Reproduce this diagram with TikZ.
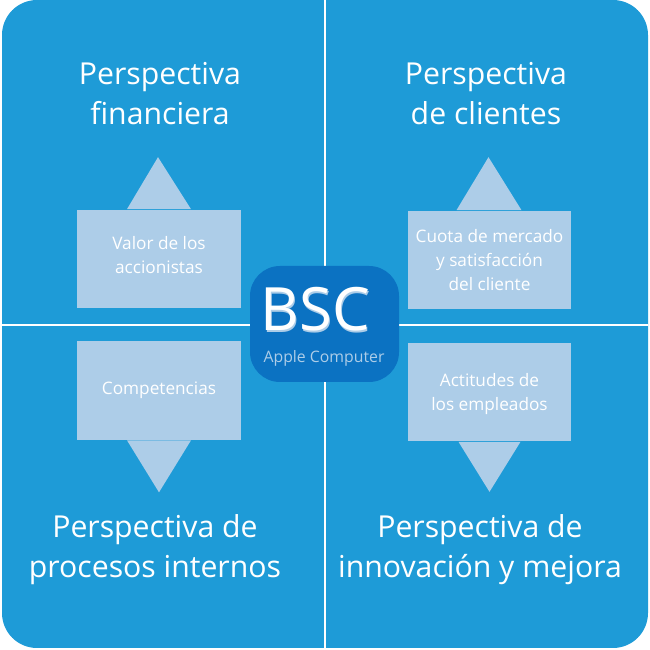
\documentclass[tikz,border=0pt]{standalone}
\usepackage{fontspec}
\setmainfont{Open Sans}
\usetikzlibrary{calc,positioning}
\definecolor{bscblue}{HTML}{1E9BD7}
\definecolor{bscdark}{HTML}{0B72C2}
\definecolor{bsclight}{HTML}{ADCDE8}
\tikzset{
	titletext/.style={text=white, align=center, font=\fontsize{17.2}{22.7}\selectfont},
	callbox/.style={fill=bsclight, text=white, align=center, inner sep=0pt,
		minimum width=3.28cm, minimum height=1.98cm, font=\fontsize{9.8}{13.6}\selectfont},
	divider/.style={white, line width=0.8pt}
}

\begin{document}
\begin{tikzpicture}[x=0.02cm, y=0.02cm]
		%%%%% START %%%%%
		
		\useasboundingbox (0, 0) rectangle (650, 650);
		\fill[bscblue, rounded corners=0.7cm] (2, 2) rectangle (648, 650);
		
		\coordinate (top) at (325, 650);
		\coordinate (bottom) at (325, 2);
		\coordinate (left) at (2, 325);
		\coordinate (right) at (648, 325);
		\draw[divider] (top) -- (bottom);
		\draw[divider] (left) -- (right);
		
		\node[titletext] (financiera) at (160, 556) {Perspectiva\\financiera};
		\node[titletext] (clientes) at (486, 556) {Perspectiva\\de clientes};
		\node[titletext] (procesos) at (155, 100) {Perspectiva de\\procesos internos};
		\node[titletext] (innovacion) at (480, 100) {Perspectiva de\\innovación y mejora};
		
		\node[callbox] (valor) at (159, 391) {Valor de los\\accionistas\\[-9.1pt]};
		\fill[bsclight] ($(valor.north)+(-32, 0)$) -- ($(valor.north)+(-1, 52)$) -- ($(valor.north)+(32, 0)$) -- cycle;
		
		\node[callbox] (cuota) at (489.5, 390) {Cuota de mercado\\y satisfacción\\del cliente};
		\fill[bsclight] ($(cuota.north)+(-33, 0)$) -- ($(cuota.north)+(-1, 53)$) -- ($(cuota.north)+(32, 0)$) -- cycle;
		
		\node[callbox] (competencias) at (159, 259.5) {Competencias};
		\fill[bsclight] ($(competencias.south)+(-32, 0)$) -- ($(competencias.south)+(0, -52)$) -- ($(competencias.south)+(32, 0)$) -- cycle;
		
		\node[callbox] (actitudes) at (489.5, 258) {\\[-4pt]Actitudes de\\los empleados};
		\fill[bsclight] ($(actitudes.south)+(-31, 0)$) -- ($(actitudes.south)+(0, -50)$) -- ($(actitudes.south)+(31, 0)$) -- cycle;
		
		\fill[bscdark, rounded corners=0.6cm] (250, 268) rectangle (399, 384);
		\node[text=bsclight, font=\fontsize{34}{34}\selectfont] (bscshadow) at (316.5, 339) {BSC};
		\node[text=white, font=\fontsize{34}{34}\selectfont] (bsc) at (315.5, 341) {BSC};
		\node[text=bsclight, font=\fontsize{9}{9}\selectfont] (apple) at (324, 292) {Apple Computer};
		
		%%%%% END %%%%%
	\end{tikzpicture}
\end{document}
